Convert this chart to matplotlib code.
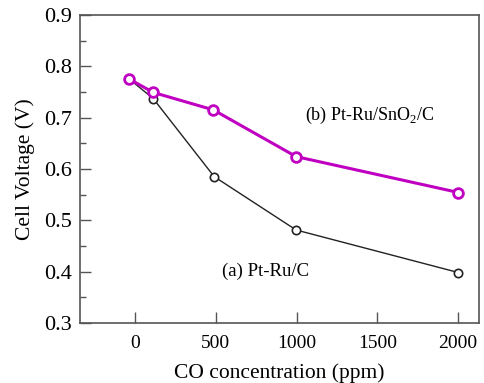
import numpy as np
import matplotlib.pyplot as plt
from matplotlib.ticker import MultipleLocator

plt.rcParams['font.family'] = ['Liberation Serif', 'DejaVu Serif']
plt.rcParams['mathtext.fontset'] = 'custom'
plt.rcParams['mathtext.rm'] = 'Liberation Serif'

# data
co_ptru = [-35, 113, 490, 997, 2002]          # (a) Pt-Ru/C, ppm
v_ptru = [0.775, 0.737, 0.585, 0.481, 0.398]
co_sno2 = [-35, 113, 485, 997, 2002]          # (b) Pt-Ru/SnO2/C
v_sno2 = [0.775, 0.749, 0.715, 0.624, 0.554]
xticks = [0, 500, 1000, 1500, 2000]

fig = plt.figure(figsize=(4.85, 3.83), dpi=100)
ax = fig.add_axes([0.165, 0.157, 0.823, 0.804])

ax.plot(co_ptru, v_ptru, c='#222222', lw=1.0, marker='o', ms=6,
        mfc='white', mec='#222222', mew=1.2, zorder=3)
ax.plot(co_sno2, v_sno2, c='#c000c0', lw=2.2, marker='o', ms=7,
        mfc='white', mec='#c000c0', mew=2.0, zorder=4)

ax.text(1055, 0.705, r'(b) Pt-Ru/SnO$_2$/C', fontsize=13, va='center')
ax.text(540, 0.401, '(a) Pt-Ru/C', fontsize=13.5, va='center')

ax.set_xlim(-340, 2130)
ax.set_ylim(0.3, 0.9)
ax.set_xticks(xticks)
ax.yaxis.set_major_locator(MultipleLocator(0.1))
ax.yaxis.set_minor_locator(MultipleLocator(0.05))
ax.yaxis.set_major_formatter(plt.FuncFormatter(lambda v, p: '%.1f' % v))
ax.tick_params(axis='both', which='major', direction='in', length=8,
               width=1, color='#555555')
ax.tick_params(axis='x', labelsize=14, pad=9)
ax.tick_params(axis='y', labelsize=16, pad=6)
ax.tick_params(axis='y', which='minor', direction='in', length=4,
               width=1, color='#555555')
for edge in ['left', 'right', 'top', 'bottom']:
    ax.spines[edge].set_color('#555555')
    ax.spines[edge].set_linewidth(1.2)

ax.set_xlabel('CO concentration (ppm)', fontsize=15.5, labelpad=8)
ax.set_ylabel('Cell Voltage (V)', fontsize=15.5, labelpad=6)

fig.savefig('out.png', dpi=100)
